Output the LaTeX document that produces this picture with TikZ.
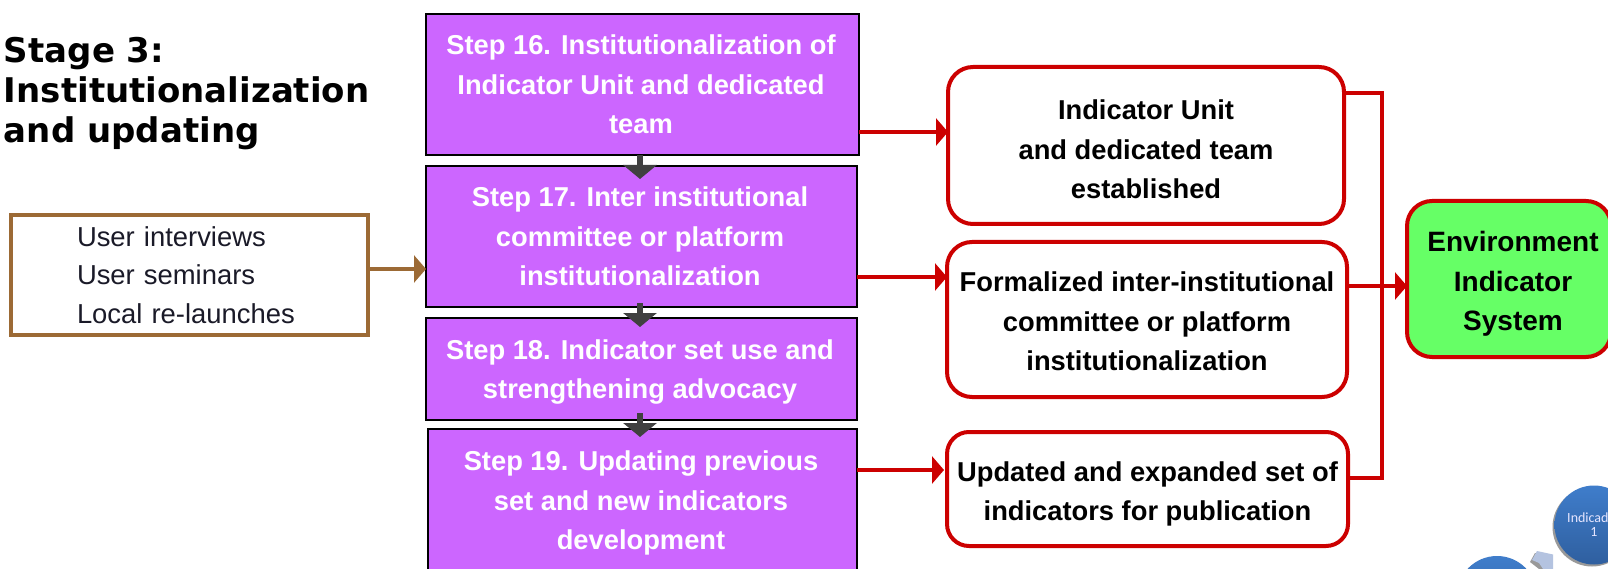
\documentclass[tikz,border=0pt]{standalone}
\usepackage{fontspec}
\setmainfont{Liberation Sans}
\newfontfamily\headfont{DejaVu Sans}
\newfontfamily\circfont{Carlito}
\usetikzlibrary{arrows.meta}
\definecolor{stepfill}{HTML}{CC66FF}
\definecolor{redline}{HTML}{CC0000}
\definecolor{brownline}{HTML}{9C6A35}
\definecolor{greenfill}{HTML}{66FF66}
\definecolor{darkarrow}{HTML}{404040}
\definecolor{circtop}{HTML}{3F7DCB}
\definecolor{circbot}{HTML}{2F5F9F}
\definecolor{chevron}{HTML}{B4C3E0}
\definecolor{bodytext}{HTML}{1A1A28}
% push a node's text down by #1 pt: a taller first line moves the centred block
\newcommand\pushdown[1]{\rule{0pt}{\dimexpr 20pt+#1pt*2\relax}}
% move one centred line left by 1.5pt
\newcommand\nudge{\hspace*{-3pt}}
\tikzset{
  every node/.style={inner sep=0pt, outer sep=0pt},
  stepbox/.style={draw=black, line width=2pt, fill=stepfill, text=white, align=center,
    font=\bfseries\fontsize{27.3}{39.5}\selectfont},
  resultbox/.style={draw=redline, line width=4pt, fill=white, text=black, align=center,
    rounded corners=25pt, font=\bfseries\fontsize{27.3}{39.5}\selectfont},
  downarrow/.style={darkarrow, line width=6pt, -{Triangle[length=14pt,width=33pt]}},
  redarrow/.style={redline, line width=4pt, -{Triangle[length=12pt,width=27pt]}},
  brownarrow/.style={brownline, line width=4pt, -{Triangle[length=12pt,width=27pt]}},
  circ/.style={circle, minimum size=79pt, top color=circtop, bottom color=circbot, text=white!90!blue,
    align=center, font=\circfont\fontsize{14}{14}\selectfont},
}
\begin{document}
\begin{tikzpicture}[x=1pt,y=-1pt]
\useasboundingbox (0,0) rectangle (1608,569);
\clip (0,0) rectangle (1608,569);
\fill[white] (0,0) rectangle (1608,569);

% title
\node[anchor=north west, align=left, font=\headfont\bfseries\fontsize{34}{40}\selectfont, text=black] (title) at (4,37.5) {Stage 3:\\Institutionalization\\and updating};

% inputs
\node[draw=brownline, line width=4pt, fill=white, minimum width=357pt, minimum height=120pt,
  inner xsep=66pt, text width=225pt, align=left, text=bodytext,
  font=\fontsize{27.4}{38.5}\selectfont] (inputs) at (189.5,275) {User interviews\\User seminars\\Local re-launches};

% steps
\node[stepbox, minimum width=433pt, minimum height=141pt] (s16) at (642.5,84.5) {\nudge Step 16. Institutionalization of\\\nudge Indicator Unit and dedicated\\\nudge team};
\node[stepbox, minimum width=431pt, minimum height=141pt] (s17) at (641.5,236.5) {\nudge Step 17. Inter institutional\\\nudge committee or platform\\\nudge institutionalization};
\node[stepbox, minimum width=431pt, minimum height=102pt] (s18) at (641.5,369) {\pushdown{3}\nudge Step 18. Indicator set use and\\\nudge strengthening advocacy};
\node[stepbox, minimum width=429pt, minimum height=142pt] (s19) at (642.5,500) {\pushdown{3}\nudge Step 19. Updating previous\\\nudge set and new indicators\\\nudge development};

% results
\node[resultbox, minimum width=396pt, minimum height=157pt] (ra) at (1146,145.5) {\pushdown{4}Indicator Unit\\and dedicated team\\established};
\node[resultbox, minimum width=400pt, minimum height=155pt] (rb) at (1147,319.5) {\pushdown{2}Formalized inter-institutional\\committee or platform\\institutionalization};
\node[resultbox, rounded corners=22pt, minimum width=401pt, minimum height=114pt] (rc) at (1147.5,489) {\pushdown{5}Updated and expanded set of\\indicators for publication};

% system
\node[draw=redline, line width=4pt, fill=greenfill, rounded corners=25pt, minimum width=204pt, minimum height=156pt,
  align=center, font=\bfseries\fontsize{28}{39.5}\selectfont, text=black] (env) at (1509,279)
  {\pushdown{5}\hspace*{8pt}Environment\\\hspace*{8pt}Indicator\\\hspace*{8pt}System};

\coordinate (bus) at (1382,286);

% connectors
\draw[downarrow] ([xshift=-2.5pt]s16.south) -- ([xshift=-1.5pt,yshift=-13pt]s17.north);
\draw[downarrow] ([xshift=-1.5pt,yshift=4pt]s17.south) -- ([xshift=-1.5pt,yshift=-9pt]s18.north);
\draw[downarrow] ([xshift=-1.5pt,yshift=7pt]s18.south) -- ([xshift=-2.5pt,yshift=-8pt]s19.north);
\draw[brownarrow] ([yshift=6pt]inputs.east) -- ([yshift=-32.5pt]s17.west);
\draw[redarrow] ([yshift=-47.5pt]s16.east) -- ([yshift=13.5pt]ra.west);
\draw[redarrow] ([yshift=-40.5pt]s17.east) -- ([yshift=42.5pt]rb.west);
\draw[redarrow] ([yshift=30pt]s19.east) -- ([xshift=-3pt,yshift=19pt]rc.west);
\draw[redline, line width=4pt] ([yshift=52.5pt]ra.east) -| (bus) |- ([yshift=11pt]rc.east);
\draw[redarrow] ([yshift=33.5pt]rb.east) -- ([yshift=-7pt]env.west);

% bottom-right fragment
\fill[black!40] (1592,527) circle[radius=39.5];
\node[circ] (c1) at (1594,525) {Indicad\hphantom{or}\\1};
\fill[black!40] (1495,598) circle[radius=40];
\node[circ, minimum size=80pt] (c2) at (1497,596) {};
\fill[black!40] (1530,562) -- (1535,553) -- (1551,557) -- (1551,569) -- (1539,569) -- cycle;
\fill[chevron] (1532,560) -- (1537,551) -- (1553,554.5) -- (1553,569) -- (1543,569) -- (1539,563) -- cycle;
\end{tikzpicture}
\end{document}
